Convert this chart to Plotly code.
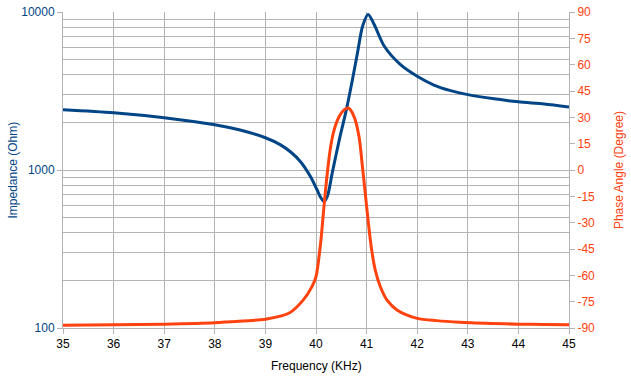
import plotly.graph_objects as go

freq = [35, 36, 37, 38, 38.5, 39, 39.3, 39.5, 39.69, 39.89, 40.02, 40.1, 40.16, 40.23, 40.32,
        40.46, 40.6, 40.72, 40.82, 40.92, 41.03, 41.15, 41.35, 41.67, 42.0, 42.33, 42.66,
        43, 43.52, 44, 44.51, 45]
impedance = [2410, 2305, 2143, 1935, 1790, 1600, 1443, 1300, 1133, 910, 750, 665, 631, 690, 955,
             1550, 2410, 3730, 5510, 8130, 9640, 8330, 6070, 4645, 3920, 3450, 3180,
             3000, 2820, 2700, 2620, 2508]

phase_freq = [35, 36, 37, 38, 38.3, 39, 39.48, 39.75, 39.92, 40.0, 40.09, 40.16, 40.23, 40.29,
              40.36, 40.46, 40.56, 40.64, 40.75, 40.85, 40.91, 40.98, 41.05, 41.1, 41.17, 41.27,
              41.4, 41.6, 42.0, 42.38, 42.84, 43.5, 44, 44.5, 45]
phase = [-88.5, -88.2, -87.8, -87.0, -86.4, -85.0, -81.3, -74.0, -66.4, -60.7, -42.0, -20.0,
         0.0, 13.4, 23.0, 30.6, 34.4, 35.3, 30.6, 19.1, 4.0, -15.1, -34.1, -45.5, -56.9, -66.4,
         -74.0, -79.7, -84.5, -85.8, -86.7, -87.4, -87.8, -88.0, -88.2]

x_ticks = list(range(35, 46))
imp_ticks = [100, 1000, 10000]
imp_minor = [m * d for d in (100, 1000) for m in range(2, 10)]
phase_ticks = list(range(-90, 91, 15))

BLUE = "#004586"
ORANGE = "#ff420e"
GRID = "#b3b3b3"
FONT = "Liberation Sans"

fig = go.Figure()
fig.add_trace(go.Scatter(x=freq, y=impedance, mode="lines", name="Impedance",
                         line=dict(color=BLUE, width=3, shape="spline", smoothing=0.8),
                         yaxis="y"))
fig.add_trace(go.Scatter(x=phase_freq, y=phase, mode="lines", name="Phase",
                         line=dict(color=ORANGE, width=3, shape="spline", smoothing=0.8),
                         yaxis="y2"))

fig.update_layout(
    width=631, height=378,
    margin=dict(l=63, r=62, t=12, b=50),
    paper_bgcolor="white", plot_bgcolor="white",
    showlegend=False,
    font=dict(family=FONT, size=12, color="black"),
    xaxis=dict(range=[35, 45], tickvals=x_ticks, showgrid=True, gridcolor=GRID, gridwidth=1,
               zeroline=False, showline=True, linecolor=GRID, ticks="outside", ticklen=5,
               tickcolor=GRID, tickfont=dict(size=12, color="black"), automargin=False),
    yaxis=dict(type="log", range=[2, 4], tickvals=imp_ticks, ticktext=[str(v) for v in imp_ticks],
               showgrid=True, gridcolor=GRID, gridwidth=1, zeroline=False,
               showline=True, linecolor=GRID, ticks="outside", ticklen=5, tickcolor=GRID,
               tickfont=dict(size=12, color=BLUE), automargin=False,
               minor=dict(tickvals=imp_minor, showgrid=True, gridcolor=GRID, gridwidth=1, ticks="")),
    yaxis2=dict(overlaying="y", side="right", range=[-90, 90], tickvals=phase_ticks,
                ticktext=[str(v) for v in phase_ticks], showgrid=False, zeroline=False,
                showline=True, linecolor=GRID, ticks="outside", ticklen=5, tickcolor=GRID,
                tickfont=dict(size=12, color=ORANGE), automargin=False),
    annotations=[
        dict(text="Frequency (KHz)", xref="paper", yref="paper", x=0.5, y=-0.12,
             xanchor="center", yanchor="middle", showarrow=False,
             font=dict(size=12, color="black")),
        dict(text="Impedance (Ohm)", xref="paper", yref="paper", x=-0.0998, y=0.5,
             xanchor="center", yanchor="middle", textangle=-90, showarrow=False,
             font=dict(size=12, color=BLUE)),
        dict(text="Phase Angle (Degree)", xref="paper", yref="paper", x=1.099, y=0.5,
             xanchor="center", yanchor="middle", textangle=-90, showarrow=False,
             font=dict(size=12, color=ORANGE)),
    ],
)

# remove the default 8px body margin so the figure sits at the page origin
fig.write_html("out.html", config={"displayModeBar": False},
               post_script="document.body.style.margin='0';document.body.style.overflow='hidden';")
